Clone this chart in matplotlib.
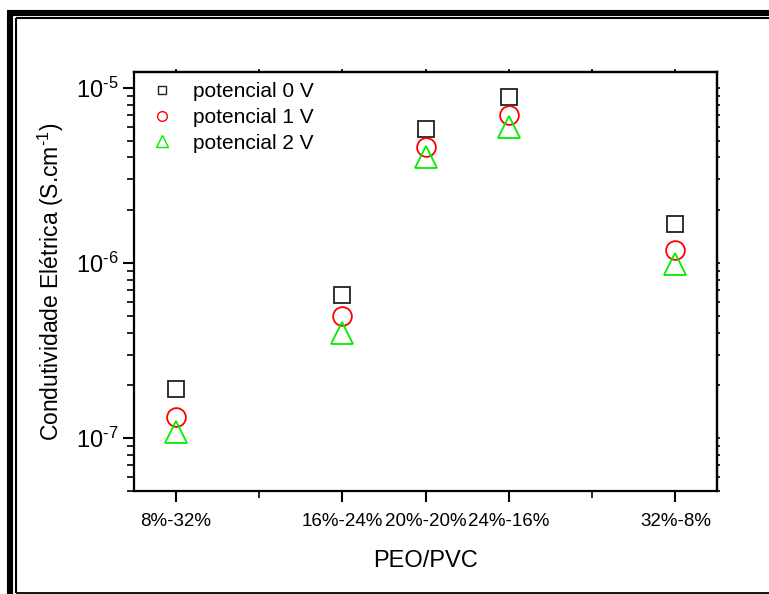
import matplotlib
matplotlib.use("Agg")
import matplotlib.pyplot as plt
from matplotlib.lines import Line2D
from matplotlib.ticker import LogLocator, FixedLocator, NullFormatter, FuncFormatter
import numpy as np

plt.rcParams['font.family'] = ['Liberation Sans', 'DejaVu Sans']
plt.rcParams['mathtext.fontset'] = 'custom'
plt.rcParams['mathtext.rm'] = 'Liberation Sans'
plt.rcParams['mathtext.it'] = 'Liberation Sans'

# Data
peo_pct = [8, 16, 20, 24, 32]
categories = ["8%-32%", "16%-24%", "20%-20%", "24%-16%", "32%-8%"]
pot0 = [1.9e-7, 6.6e-7, 5.8e-6, 8.8e-6, 1.68e-6]
pot1 = [1.32e-7, 5.0e-7, 4.6e-6, 7.0e-6, 1.18e-6]
pot2 = [1.08e-7, 4.0e-7, 4.0e-6, 6.0e-6, 9.9e-7]
series_labels = ["potencial 0 V", "potencial 1 V", "potencial 2 V"]

W, H = 769, 594
fig = plt.figure(figsize=(W / 100, H / 100), dpi=100)
ax = fig.add_axes([134 / W, 1 - 491 / H, (717 - 134) / W, (491 - 72) / H])

ax.plot(peo_pct, pot0, linestyle='none', marker='s', markersize=11.5,
        markerfacecolor='none', markeredgecolor='#222222', markeredgewidth=1.3)
ax.plot(peo_pct, pot1, linestyle='none', marker='o', markersize=13.5,
        markerfacecolor='none', markeredgecolor='red', markeredgewidth=1.3)
ax.plot(peo_pct, pot2, linestyle='none', marker='^', markersize=15.5,
        markerfacecolor='none', markeredgecolor='#00ee00', markeredgewidth=1.3)

ax.set_yscale('log')
ax.set_xlim(6, 34)
ax.set_ylim(5e-8, 1.23e-5)

ax.xaxis.set_major_locator(FixedLocator(peo_pct))
ax.set_xticklabels(categories)
ax.xaxis.set_minor_locator(FixedLocator([12, 28]))
ax.yaxis.set_major_locator(LogLocator(base=10))
ax.yaxis.set_minor_locator(LogLocator(base=10, subs=range(2, 10)))
ax.yaxis.set_minor_formatter(NullFormatter())
ax.yaxis.set_major_formatter(FuncFormatter(
    lambda v, p: "$10^{\\text{%d}}$" % int(round(np.log10(v)))))

ax.tick_params(axis='both', which='major', direction='out', length=8, width=1.5)
ax.tick_params(axis='both', which='minor', direction='out', length=5, width=1.2)
ax.tick_params(axis='x', which='both', labelsize=13.5, pad=8)
ax.tick_params(axis='y', which='both', labelsize=17, pad=3)
for s in ax.spines.values():
    s.set_linewidth(1.6)

# tiny mirrored ticks on top and right
secx = ax.secondary_xaxis('top')
secx.xaxis.set_major_locator(FixedLocator(peo_pct))
secx.xaxis.set_minor_locator(FixedLocator([12, 28]))
secx.tick_params(axis='x', which='both', direction='out', length=2, width=1.2,
                 labeltop=False)
secy = ax.secondary_yaxis('right')
secy.yaxis.set_major_locator(LogLocator(base=10))
secy.yaxis.set_minor_locator(LogLocator(base=10, subs=range(2, 10)))
secy.yaxis.set_minor_formatter(NullFormatter())
secy.tick_params(axis='y', which='both', direction='out', length=2, width=1.2,
                 labelright=False)
for s in list(secx.spines.values()) + list(secy.spines.values()):
    s.set_linewidth(1.6)

ax.set_xlabel("PEO/PVC", fontsize=17, labelpad=14)
ax.set_ylabel("Condutividade Elétrica (S.cm$^{\\text{-1}}$)", fontsize=16.5, labelpad=7)

handles = [
    Line2D([], [], linestyle='none', marker='s', markersize=6, markerfacecolor='none',
           markeredgecolor='#222222', markeredgewidth=1.0),
    Line2D([], [], linestyle='none', marker='o', markersize=7, markerfacecolor='none',
           markeredgecolor='red', markeredgewidth=1.0),
    Line2D([], [], linestyle='none', marker='^', markersize=8, markerfacecolor='none',
           markeredgecolor='#00ee00', markeredgewidth=1.0),
]
ax.legend(handles, series_labels, loc='upper left', frameon=False, fontsize=15,
          handlelength=1.0, handletextpad=1.0, labelspacing=0.33,
          bbox_to_anchor=(0.005, 1.011), borderaxespad=0.3)

# Decorative frame around the figure
def fl(x0, y0, x1, y1, lw):
    fig.add_artist(Line2D([x0 / W, x1 / W], [1 - y0 / H, 1 - y1 / H], color='black',
                          linewidth=lw, transform=fig.transFigure, solid_capstyle='butt'))

fl(10, 10, 10, H + 5, 4.4)
fl(7, 13, W + 5, 13, 4.4)
fl(16, 18, 16, 593, 1.5)
fl(15.5, 18, W + 5, 18, 1.5)
fl(15.5, 592.5, W + 5, 592.5, 1.3)

fig.savefig("out.png", dpi=100)
